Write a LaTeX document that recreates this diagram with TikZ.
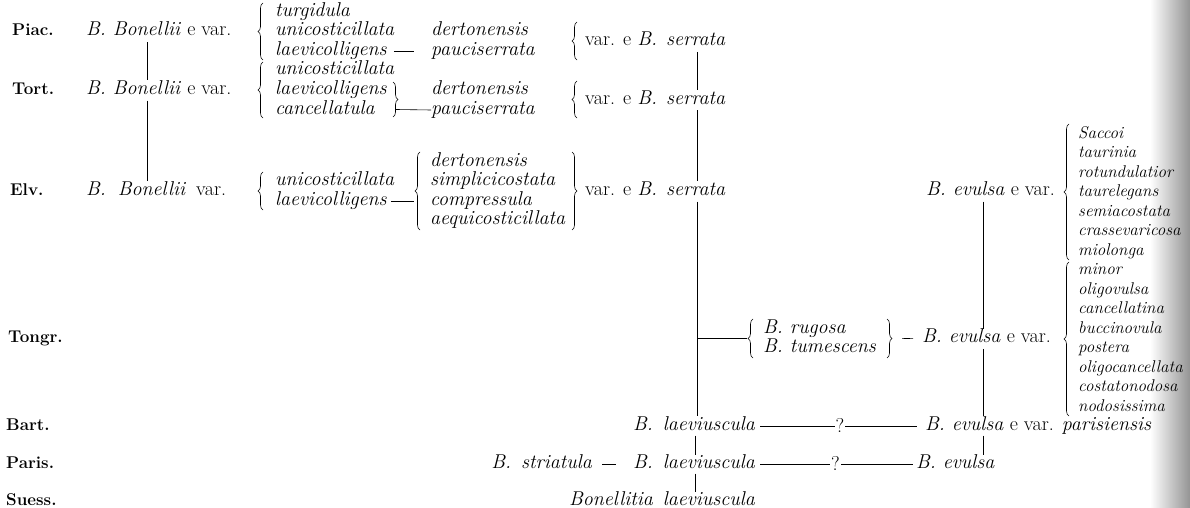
\documentclass[tikz,border=0pt]{standalone}
\usetikzlibrary{decorations.pathreplacing}
\begin{document}
\begin{tikzpicture}[x=1pt,y=-1pt,
  every node/.style={inner sep=0pt, text height=12pt, text depth=4pt, anchor=base west},
  tx/.style={font=\fontsize{20}{19.5}\selectfont},
  it/.style={font=\fontsize{20}{19.5}\selectfont\itshape},
  rit/.style={font=\fontsize{17}{19.5}\selectfont\itshape},
  lab/.style={font=\fontsize{17}{17}\selectfont\bfseries},
  conn/.style={line width=0.6pt},
  lbrace/.style={decorate, decoration={brace, amplitude=5pt}, line width=0.6pt},
  qm/.style={fill=white, inner sep=0.8pt, anchor=center, text height=12pt, text depth=0pt, font=\fontsize{20}{19.5}\selectfont}
]
\useasboundingbox (0,0) rectangle (1190,508);
\shade[left color=white, right color=black!42] (1150,0) rectangle (1190,508);

% helper coordinates
\coordinate (xB) at (147,0);
\coordinate (xS) at (697,0);
\coordinate (xE) at (983,0);
\coordinate (xL) at (695,0);

% row labels
\node[lab] (piac) at (12,36) {Piac.};
\node[lab] (tort) at (12,94.5) {Tort.};
\node[lab] (elv) at (10,195.5) {Elv.};
\node[lab] (tongr) at (8,342.75) {Tongr.};
\node[lab] (bart) at (6,430.5) {Bart.};
\node[lab] (paris) at (6,468.5) {Paris.};
\node[lab] (suess) at (6,505.5) {Suess.};

% Bonellii column
\node[tx] (bonP) at (86,36) {{\itshape B. Bonellii\/} e var.};
\node[tx] (bonT) at (86,94.5) {{\itshape B. Bonellii\/} e var.};
\node[tx] (bonE) at (86,195.5) {{\itshape B.\hspace{5pt} Bonellii\/}\hspace{10pt}var.};

% Piac / Tort lists
\node[it] (p1) at (275,16.5) {turgidula};
\node[it] (p2) at (275,36) {unicosticillata};
\node[it] (p3) at (275,55.5) {laevicolligens};
\node[it] (t1) at (275,75) {unicosticillata};
\node[it] (t2) at (275,94.5) {laevicolligens};
\node[it] (t3) at (275,114) {cancellatula};
\node[it] (pd) at (431,36) {dertonensis};
\node[it] (pp) at (431,55.5) {pauciserrata};
\node[it] (td) at (431,94.5) {dertonensis};
\node[it] (tp) at (431,114) {pauciserrata};
\node[tx] (serP) at (585,45.75) {var. e {\itshape B.\hspace{2pt} serrata}};
\node[tx] (serT) at (585,104.25) {var. e {\itshape B.\hspace{2pt} serrata}};

% Elv lists
\node[it] (e1) at (275,185.75) {unicosticillata};
\node[it] (e2) at (275,205.25) {laevicolligens};
\node[it] (f1) at (430,166.25) {dertonensis};
\node[it] (f2) at (430,185.75) {simplicicostata};
\node[it] (f3) at (430,205.25) {compressula};
\node[it] (f4) at (430,224.75) {aequicosticillata};
\node[tx] (serE) at (585,195.5) {var. e {\itshape B.\hspace{2pt} serrata}};
\coordinate (tip4) at (414,191);

% braces left part
\draw[lbrace] (263,60) -- (263,3);
\draw[lbrace] (263,118) -- (263,62);
\draw[lbrace] (263,210) -- (263,172);
\draw[lbrace] (393,82) -- (393,117);
\coordinate (tbr) at (396,109.5);
\draw[lbrace] (577,60) -- (577,22);
\draw[lbrace] (577,118) -- (577,81);
\draw[lbrace] (420,230) -- (420,152);
\draw[lbrace] (572,152) -- (572,230);

% Tongr
\node[it] (rug) at (763,333) {B.\ rugosa};
\node[it] (tum) at (763,352.5) {B.\ tumescens};
\draw[lbrace] (753,358) -- (753,319);
\draw[lbrace] (887,319) -- (887,358);
\coordinate (rugL) at (747,338.25);
\coordinate (rugR) at (892,338.25);
\node[tx] (ev2) at (922,342.75) {{\itshape B. evulsa\/} e var.};
\node[tx] (ev1) at (926,195.5) {{\itshape B. evulsa\/} e var.};

% right lists
\foreach \n/\w [count=\k from 0] in {r1/Saccoi,r2/taurinia,r3/rotundulatior,r4/taurelegans,r5/semiacostata,r6/crassevaricosa,r7/miolonga,r8/minor,r9/oligovulsa,r10/cancellatina,r11/buccinovula,r12/postera,r13/oligocancellata,r14/costatonodosa,r15/nodosissima}
  \node[rit] (\n) at (1078,138+19.5*\k) {\w};
\draw[lbrace] (1069,260) -- (1069,124);
\draw[lbrace] (1069,416) -- (1069,262);

% Bart, Paris, Suess
\node[tx, anchor=base east] (lae1) at (755,430.5) {\itshape B.\hspace{3pt} laeviuscula};
\node[tx] (ev3) at (925,430.5) {{\itshape B. evulsa\/} e var. {\itshape parisiensis}};
\node[tx, anchor=base east] (lae2) at (755,468.5) {\itshape B.\hspace{3pt} laeviuscula};
\node[tx, anchor=base east] (stri) at (592,468.5) {\itshape B.\hspace{3pt} striatula};
\node[tx] (ev4) at (916,468.5) {\itshape B. evulsa};
\node[tx, anchor=base east] (bonS) at (755,505.5) {\itshape Bonellitia\hspace{3pt} laeviuscula};

% vertical connectors
\draw[conn, shorten <=2pt, shorten >=2pt] (bonP.south -| xB) -- (bonT.north -| xB);
\draw[conn, shorten <=2pt, shorten >=2pt] (bonT.south -| xB) -- (bonE.north -| xB);
\draw[conn, shorten <=2pt, shorten >=2pt] (serP.south -| xS) -- (serT.north -| xS);
\draw[conn, shorten <=2pt, shorten >=2pt] (serT.south -| xS) -- (serE.north -| xS);
\draw[conn, shorten <=2pt, shorten >=2pt] (serE.south -| xS) -- (lae1.north -| xS);
\draw[conn] (rugL -| xS) -- (rugL);
\draw[conn, shorten <=1pt, shorten >=1pt] (lae1.south -| xL) -- (lae2.north -| xL);
\draw[conn, shorten <=1pt, shorten >=1pt] (lae2.south -| xL) -- (bonS.north -| xL);
\draw[conn, shorten <=2pt, shorten >=2pt] (ev1.south -| xE) -- (ev2.north -| xE);
\draw[conn, shorten <=2pt, shorten >=2pt] (ev2.south -| xE) -- (ev3.north -| xE);
\draw[conn, shorten <=1pt, shorten >=1pt] (ev3.south -| xE) -- (ev4.north -| xE);

% horizontal connectors
\draw[conn, shorten <=7pt, shorten >=17pt] (p3.east) -- (pp.west);
\draw[conn] (tbr) -- (tp.west);
\draw[conn, shorten <=4pt] (e2.east) -- (e2.east -| tip4);
\draw[conn, shorten <=10pt, shorten >=9pt] (rugR) -- (ev2.west);
\draw[conn, shorten <=5pt, shorten >=8pt] (lae1.east) -- node[qm] (q1) {?} (ev3.west);
\draw[conn, shorten <=5pt, shorten >=3pt] (lae2.east) -- node[qm] (q2) {?} (ev4.west);
\draw[conn, shorten <=10pt, shorten >=17pt] (stri.east) -- (lae2.west);
\end{tikzpicture}
\end{document}
